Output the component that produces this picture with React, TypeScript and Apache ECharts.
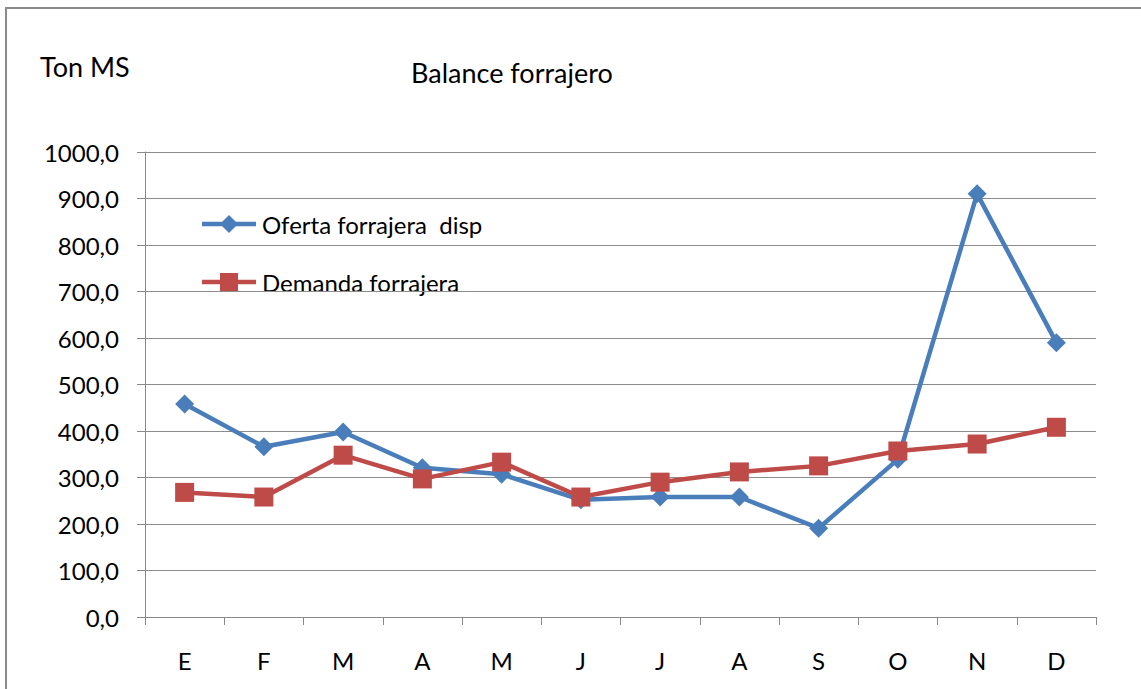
import React, { useEffect, useRef } from "react";
import * as echarts from "echarts";

const months = ["E", "F", "M", "A", "M", "J", "J", "A", "S", "O", "N", "D"];
const oferta = [458, 366, 398, 321, 307, 252, 258, 258, 191, 339, 910, 590];
const demanda = [268, 258, 348, 297, 333, 258, 290, 312, 325, 357, 372, 408];
const seriesNames = ["Oferta forrajera  disp", "Demanda forrajera"];
const yTicks = { min: 0, max: 1000, interval: 100 };

const FONT = "Lato, 'Open Sans', sans-serif";
const BLUE = "#4A7EBB";
const RED = "#BE4B48";

function legendItem(y: number, name: string, color: string, kind: "diamond" | "square") {
  const marker =
    kind === "diamond"
      ? {
          type: "polygon",
          shape: { points: [[229, y - 9], [238, y], [229, y + 9], [220, y]] },
          style: { fill: color },
        }
      : {
          type: "rect",
          shape: { x: 220, y: y - 9, width: 18, height: 18 },
          style: { fill: color },
        };
  return [
    {
      type: "line",
      shape: { x1: 202, y1: y, x2: 256, y2: y },
      style: { stroke: color, lineWidth: 4.5 },
    },
    marker,
    {
      type: "text",
      x: 262,
      y,
      style: {
        text: name,
        fontSize: 24,
        fontFamily: FONT,
        fill: "#000",
        verticalAlign: "middle",
        align: "left",
      },
    },
  ];
}

export default function App() {
  const ref = useRef<HTMLDivElement>(null);
  useEffect(() => {
    const chart = echarts.init(ref.current!, null, { renderer: "svg" });
    chart.setOption({
      animation: false,
      backgroundColor: "#ffffff",
      textStyle: { fontFamily: FONT, color: "#000" },
      graphic: [
        {
          type: "rect",
          shape: { x: 6, y: 8, width: 1200, height: 800 },
          style: { fill: "none", stroke: "#8a8a8a", lineWidth: 2 },
          silent: true,
        },
        {
          type: "text",
          left: 40,
          top: 53,
          style: { text: "Ton MS", fontSize: 27, fontFamily: FONT, fill: "#000" },
        },
        {
          type: "text",
          left: 411,
          top: 59,
          style: { text: "Balance forrajero", fontSize: 27, fontFamily: FONT, fill: "#000" },
        },
        ...legendItem(224, seriesNames[0], BLUE, "diamond"),
        ...legendItem(282, seriesNames[1], RED, "square"),
      ],
      grid: { left: 145, right: 45, top: 152, bottom: 72 },
      xAxis: {
        type: "category",
        data: months,
        boundaryGap: true,
        axisLine: { lineStyle: { color: "#888", width: 1 } },
        axisTick: { show: true, length: 8, lineStyle: { color: "#888" } },
        axisLabel: { fontSize: 24, color: "#000", margin: 31, fontFamily: FONT },
      },
      yAxis: {
        type: "value",
        min: yTicks.min,
        max: yTicks.max,
        interval: yTicks.interval,
        axisLine: { show: true, lineStyle: { color: "#888", width: 1 } },
        axisTick: { show: true, length: 8, lineStyle: { color: "#888" } },
        splitLine: { lineStyle: { color: "#8c8c8c", width: 1 } },
        axisLabel: {
          fontSize: 24,
          color: "#000",
          margin: 26,
          fontFamily: FONT,
          formatter: (v: number) => v.toFixed(1).replace(".", ","),
        },
      },
      series: [
        {
          name: seriesNames[0],
          type: "line",
          data: oferta,
          symbol: "diamond",
          symbolSize: 19,
          lineStyle: { color: BLUE, width: 4.5 },
          itemStyle: { color: BLUE },
          z: 2,
        },
        {
          name: seriesNames[1],
          type: "line",
          data: demanda,
          symbol: "rect",
          symbolSize: 19,
          lineStyle: { color: RED, width: 4.5 },
          itemStyle: { color: RED },
          z: 3,
        },
      ],
    });
    return () => chart.dispose();
  }, []);
  return (
    <div
      ref={ref}
      style={{ position: "fixed", left: 0, top: 0, width: 1141, height: 689 }}
    />
  );
}
